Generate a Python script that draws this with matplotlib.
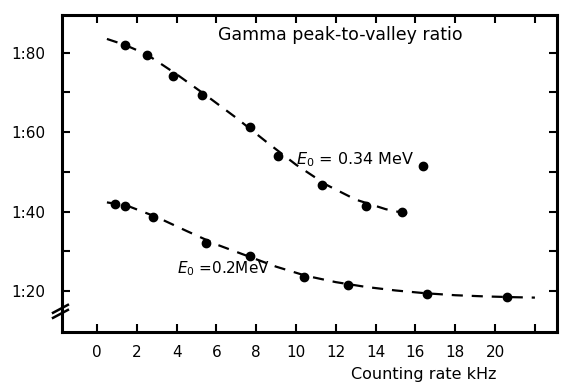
import numpy as np
import matplotlib
matplotlib.use('Agg')
from matplotlib import pyplot as plt

# measured points, E0 = 0.34 MeV
rate_hi = [1.4, 2.5, 3.8, 5.3, 7.7, 9.1, 11.3, 13.5, 15.3, 16.4]
ratio_hi = [82.0, 79.5, 74.2, 69.4, 61.3, 53.9, 46.8, 41.5, 40.0, 51.4]
# measured points, E0 = 0.2 MeV
rate_lo = [0.9, 1.4, 2.8, 5.5, 7.7, 10.4, 12.6, 16.6, 20.6]
ratio_lo = [42.0, 41.5, 38.7, 32.0, 28.9, 23.5, 21.5, 19.2, 18.5]

# hand-drawn trend curves
curve_hi_x = [0.5, 1.4, 2.5, 4.0, 5.5, 7.0, 8.5, 10.0, 11.5, 13.0, 14.5, 16.0]
curve_hi_y = [83.5, 82.0, 79.6, 74.6, 69.2, 63.6, 57.6, 51.8, 46.8, 43.0, 40.6, 39.0]
curve_lo_x = [0.5, 1.5, 3.0, 4.5, 6.0, 7.5, 9.0, 10.5, 12.0, 13.5, 15.0, 16.5, 18.0, 19.5, 21.0, 22.0]
curve_lo_y = [42.3, 41.5, 38.6, 35.1, 31.7, 28.9, 26.1, 23.8, 22.2, 21.0, 20.1, 19.4, 18.9, 18.6, 18.4, 18.3]

xticks = list(range(0, 23, 2))
xlabels = [str(v) for v in range(0, 21, 2)] + ['']
yticks = [20, 30, 40, 50, 60, 70, 80]
ylabels = ['1:20', '', '1:40', '', '1:60', '', '1:80']

plt.rcParams['font.family'] = 'DejaVu Sans'
fig = plt.figure(figsize=(5.63, 3.88), dpi=100)
ax = fig.add_axes([0.110, 0.144, 0.879, 0.817])

ax.plot(curve_hi_x, curve_hi_y, color='black', lw=1.6, dashes=(5, 4))
ax.plot(curve_lo_x, curve_lo_y, color='black', lw=1.6, dashes=(5, 4))
ax.plot(rate_hi, ratio_hi, 'o', color='black', ms=6)
ax.plot(rate_lo, ratio_lo, 'o', color='black', ms=6)

ax.set_xlim(-1.76, 23.1)
ax.set_ylim(9.6, 89.5)
ax.set_xticks(xticks)
ax.set_xticklabels(xlabels)
ax.set_yticks(yticks)
ax.set_yticklabels(ylabels)
ax.tick_params(direction='in', length=6, width=1.5, top=True, right=True,
               labelsize=11, pad=9)
ax.tick_params(axis='y', pad=12)
for s in ax.spines.values():
    s.set_linewidth(2.2)

ax.text(12.2, 84.5, 'Gamma peak-to-valley ratio', fontsize=12.5, ha='center', va='center')
ax.text(10.0, 53.0, r'$E_0$ = 0.34 MeV', fontsize=11.5, ha='left', va='center')
ax.text(4.0, 25.5, r'$E_0$ =0.2MeV', fontsize=11, ha='left', va='center')
ax.text(0.731, -0.135, 'Counting rate kHz', fontsize=11.5, ha='center', va='center',
        transform=ax.transAxes)

# axis break mark
for dy in (0.0, 0.016):
    ax.plot([-0.018, 0.012], [0.045 + dy, 0.07 + dy], transform=ax.transAxes,
            color='black', lw=1.8, clip_on=False)

fig.savefig('out.png', dpi=100)
